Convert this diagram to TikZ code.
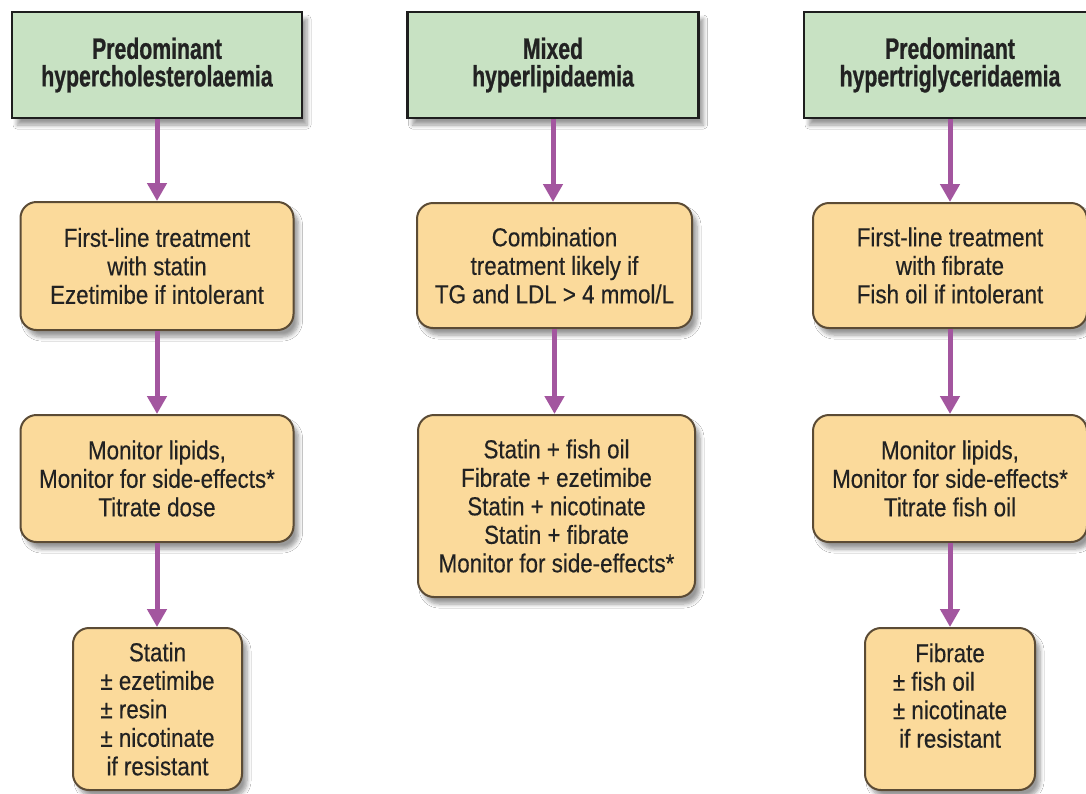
\documentclass[tikz,border=0pt]{standalone}
\usepackage{fontspec}
\usepackage{calc}
\usetikzlibrary{arrows.meta,shadows.blur}
\newfontfamily\headfont[FakeStretch=0.72,FakeBold=0.8]{Liberation Sans}
\newfontfamily\bodyfont[FakeStretch=0.86,FakeBold=0.35]{Liberation Sans}
\definecolor{headfill}{HTML}{C8E2C3}
\definecolor{headline}{HTML}{1E1E1E}
\definecolor{boxfill}{HTML}{FBDA9B}
\definecolor{boxline}{HTML}{5B4B35}
\definecolor{arrowcol}{HTML}{A3569F}
\definecolor{textcol}{HTML}{222222}
% keep the "±" lines flush left against the widest of them
\newcommand\pmrow[1]{\makebox[\widthof{± nicotinate}][l]{#1}}

\tikzset{
  softshadow/.style={blur shadow={shadow xshift=5pt,shadow yshift=-7pt,
      shadow opacity=40,shadow blur steps=6,shadow blur radius=4pt}},
  head/.style={draw=headline,line width=2.5pt,fill=headfill,
      minimum width=290pt,minimum height=106pt,inner sep=0pt,align=center,
      text=textcol,font=\headfont\bfseries\fontsize{29.5}{27.5}\selectfont,softshadow},
  stage/.style={draw=boxline,line width=2pt,fill=boxfill,rounded corners=16pt,
      inner sep=0pt,align=center,text=textcol,
      font=\bodyfont\fontsize{26}{28.5}\selectfont,softshadow},
  flow/.style={draw=arrowcol,line width=5pt,
      -{Triangle[length=18pt,width=19pt]},arrowcol}
}

\begin{document}
\begin{tikzpicture}[x=1pt,y=-1pt]
\useasboundingbox (0,0) rectangle (1086,793);
\fill[white] (0,0) rectangle (1086,793);

% --- left column: hypercholesterolaemia
\node[head] (h1) at (157,65) {Predominant\\hypercholesterolaemia};
\node[stage,minimum width=273pt,minimum height=128pt] (a1) at (157,266)
  {First-line treatment\\with statin\\Ezetimibe if intolerant};
\node[stage,minimum width=273pt,minimum height=127pt] (a2) at (157,478.5)
  {Monitor lipids,\\Monitor for side-effects*\\Titrate dose};
\node[stage,minimum width=169pt,minimum height=162pt] (a3) at (157.5,709)
  {Statin\\\pmrow{± ezetimibe}\\\pmrow{± resin}\\\pmrow{± nicotinate}\\if resistant};

% --- middle column: mixed hyperlipidaemia
\node[head,minimum width=291pt] (h2) at (553,65) {Mixed\\hyperlipidaemia};
\node[stage,minimum width=275pt,minimum height=125pt] (b1) at (554.5,265.5)
  {Combination\\treatment likely if\\TG and LDL > 4 mmol/L};
\node[stage,minimum width=277pt,minimum height=182pt] (b2) at (556.5,506)
  {Statin + fish oil\\Fibrate + ezetimibe\\Statin + nicotinate\\Statin + fibrate\\Monitor for side-effects*};

% --- right column: hypertriglyceridaemia
\node[head,minimum width=292pt] (h3) at (950,65) {Predominant\\hypertriglyceridaemia};
\node[stage,minimum width=274pt,minimum height=125pt] (c1) at (950,265.5)
  {First-line treatment\\with fibrate\\Fish oil if intolerant};
\node[stage,minimum width=274pt,minimum height=127pt] (c2) at (950,478.5)
  {Monitor lipids,\\Monitor for side-effects*\\Titrate fish oil};
% the deep strut lifts this text block towards the top of its box
\node[stage,minimum width=170pt,minimum height=162pt] (c3) at (950,709)
  {Fibrate\\\pmrow{± fish oil}\\\pmrow{± nicotinate}\\if resistant\rule[-27pt]{0pt}{0pt}};

% --- connectors
\draw[flow] (h1.south) -- (h1.south |- a1.north);
\draw[flow] (a1.south) -- (a2.north);
\draw[flow] (a2.south) -- (a2.south |- a3.north);
\draw[flow] (h2.south) -- (h2.south |- b1.north);
\draw[flow] (b1.south) -- (b1.south |- b2.north);
\draw[flow] (h3.south) -- (c1.north);
\draw[flow] (c1.south) -- (c2.north);
\draw[flow] (c2.south) -- (c3.north);
\end{tikzpicture}
\end{document}
